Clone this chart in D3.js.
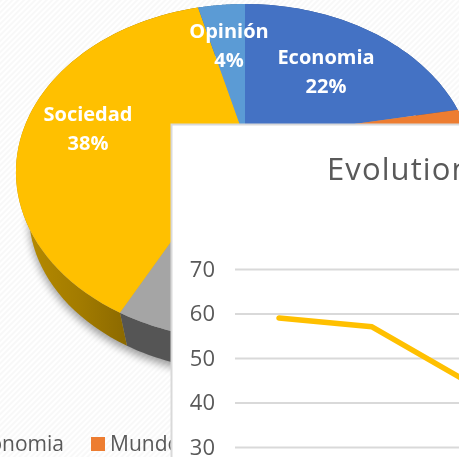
<!DOCTYPE html>
<html><head><meta charset="utf-8">
<style>html,body{margin:0;padding:0;background:#fff;overflow:hidden}svg{display:block;filter:blur(.35px)}</style>
<script src="https://cdnjs.cloudflare.com/ajax/libs/d3/7.8.5/d3.min.js"></script>
</head><body>
<svg id="c" width="459" height="457"></svg>
<script>
// Pie data (clockwise from 12 o'clock). The split between Mundo and the grey slice is hidden in the reference.
const pieCategories = ["Economia","Mundo","Cultura","Sociedad","Opinión"];
const pieValues = [22,18,17.6,38.4,4];
const pieColors = ["#4472c4","#ed7d31","#a5a5a5","#ffc000","#5b9bd5"];
const wallColors = ["#2f4f88","#a55720","#555555","#9c7600","#3f6c95"];
const labelled = ["Economia","Sociedad","Opinión"];
// Line inset
const lineTitle = "Evolution";
const linePeriods = ["a","b","c"];
const lineValues = [59,57,45];
const yTicks = [30,40,50,60,70];

const W=459,H=457;
const svg=d3.select("#c");
const defs=svg.append("defs");
const pat=defs.append("pattern").attr("id","hatch").attr("width",4).attr("height",4)
  .attr("patternUnits","userSpaceOnUse").attr("patternTransform","rotate(45)");
pat.append("rect").attr("width",4).attr("height",4).attr("fill","#ffffff");
pat.append("rect").attr("width",2).attr("height",4).attr("fill","#f8f8f8");
const sh=defs.append("filter").attr("id","shadow").attr("x","-20%").attr("y","-20%").attr("width","140%").attr("height","140%");
sh.append("feGaussianBlur").attr("stdDeviation",4);
const grad=defs.append("linearGradient").attr("id","wallY").attr("gradientUnits","userSpaceOnUse")
  .attr("x1",20).attr("x2",130).attr("y1",0).attr("y2",0);
grad.append("stop").attr("offset",0).attr("stop-color","#b88c00");
grad.append("stop").attr("offset",.55).attr("stop-color","#a27b00");
grad.append("stop").attr("offset",1).attr("stop-color","#8a6800");

svg.append("rect").attr("width",W).attr("height",H).attr("fill","url(#hatch)");

// perspective projection of the pie disc
const K=.1965, A=224.6, B=161.5, CX=245;
const project=(a,level)=>{
  const u=Math.sin(a),v=Math.cos(a),w=1+K*v;
  const s=level?0.944:1, y0=level?181.7:139;
  return [CX+A*s*u/w, y0-B*s*v/w];
};
const arcsData=d3.pie().sort(null).value(d=>d)(pieValues);
const sample=(a0,a1,level)=>d3.range(0,61).map(i=>project(a0+(a1-a0)*i/60,level));
const line=d3.line();

// shadow under the pie
svg.append("path")
  .attr("d",line(sample(0,2*Math.PI,1))+"Z")
  .attr("transform","translate(0,5)")
  .attr("fill","#000").attr("opacity",.38).attr("filter","url(#shadow)");

// side walls
svg.append("g").selectAll("path").data(arcsData).join("path")
  .attr("d",d=>line(sample(d.startAngle,d.endAngle,0).concat(sample(d.startAngle,d.endAngle,1).reverse()))+"Z")
  .attr("fill",(d,i)=>pieCategories[i]==="Sociedad"?"url(#wallY)":wallColors[i]);

// top faces
svg.append("g").selectAll("path").data(arcsData).join("path")
  .attr("d",d=>line([[CX,139]].concat(sample(d.startAngle,d.endAngle,0)))+"Z")
  .attr("fill",(d,i)=>pieColors[i]);

// pie labels
const labelPos={Economia:[326,57,86],Sociedad:[88,114,143],"Opinión":[229,31,60]};
const lg=svg.append("g").attr("fill","#fff").attr("font-family","'Open Sans',sans-serif")
  .attr("font-weight",700).attr("font-size",20).attr("text-anchor","middle");
labelled.forEach(n=>{
  const p=labelPos[n],i=pieCategories.indexOf(n);
  const t=lg.append("g");
  t.append("text").attr("x",p[0]).attr("y",p[1]+7).text(n);
  t.append("text").attr("x",p[0]).attr("y",p[2]+7).text(Math.round(pieValues[i])+"%");
});

// legend
const leg=svg.append("g").attr("font-family","'Open Sans',sans-serif").attr("font-size",21).attr("fill","#595959");
leg.append("text").attr("x",64).attr("y",450.5).attr("text-anchor","end").text(pieCategories[0]);
leg.append("rect").attr("x",91).attr("y",437).attr("width",14).attr("height",14).attr("fill",pieColors[1]);
leg.append("text").attr("x",110).attr("y",450.5).text(pieCategories[1]);

// inset panel
svg.append("rect").attr("x",171.5).attr("y",124.5).attr("width",300).attr("height",340)
  .attr("fill","#fff").attr("stroke","#d9d9d9").attr("stroke-width",2);
svg.append("text").attr("x",327).attr("y",180).attr("font-family","'Open Sans',sans-serif")
  .attr("font-size",31).attr("letter-spacing",1.1).attr("fill","#595959").text(lineTitle);

const y=d3.scaleLinear().domain([30,70]).range([447,269]);
const x=d3.scalePoint().domain(linePeriods).range([279,465]);
const ax=svg.append("g").attr("transform","translate(235,0)")
  .call(d3.axisLeft(y).tickValues(yTicks).tickSize(-240).tickPadding(20).tickFormat(d3.format("d")));
ax.select(".domain").remove();
ax.selectAll("line").attr("stroke","#d9d9d9").attr("stroke-width",1.8);
ax.selectAll("text").attr("font-family","'Open Sans',sans-serif").attr("font-size",22).attr("fill","#595959");
svg.append("path").datum(lineValues)
  .attr("fill","none").attr("stroke","#ffc000").attr("stroke-width",5.5).attr("stroke-linecap","round").attr("stroke-linejoin","round")
  .attr("d",d3.line().x((d,i)=>x(linePeriods[i])).y(d=>y(d)));
</script>
</body></html>
